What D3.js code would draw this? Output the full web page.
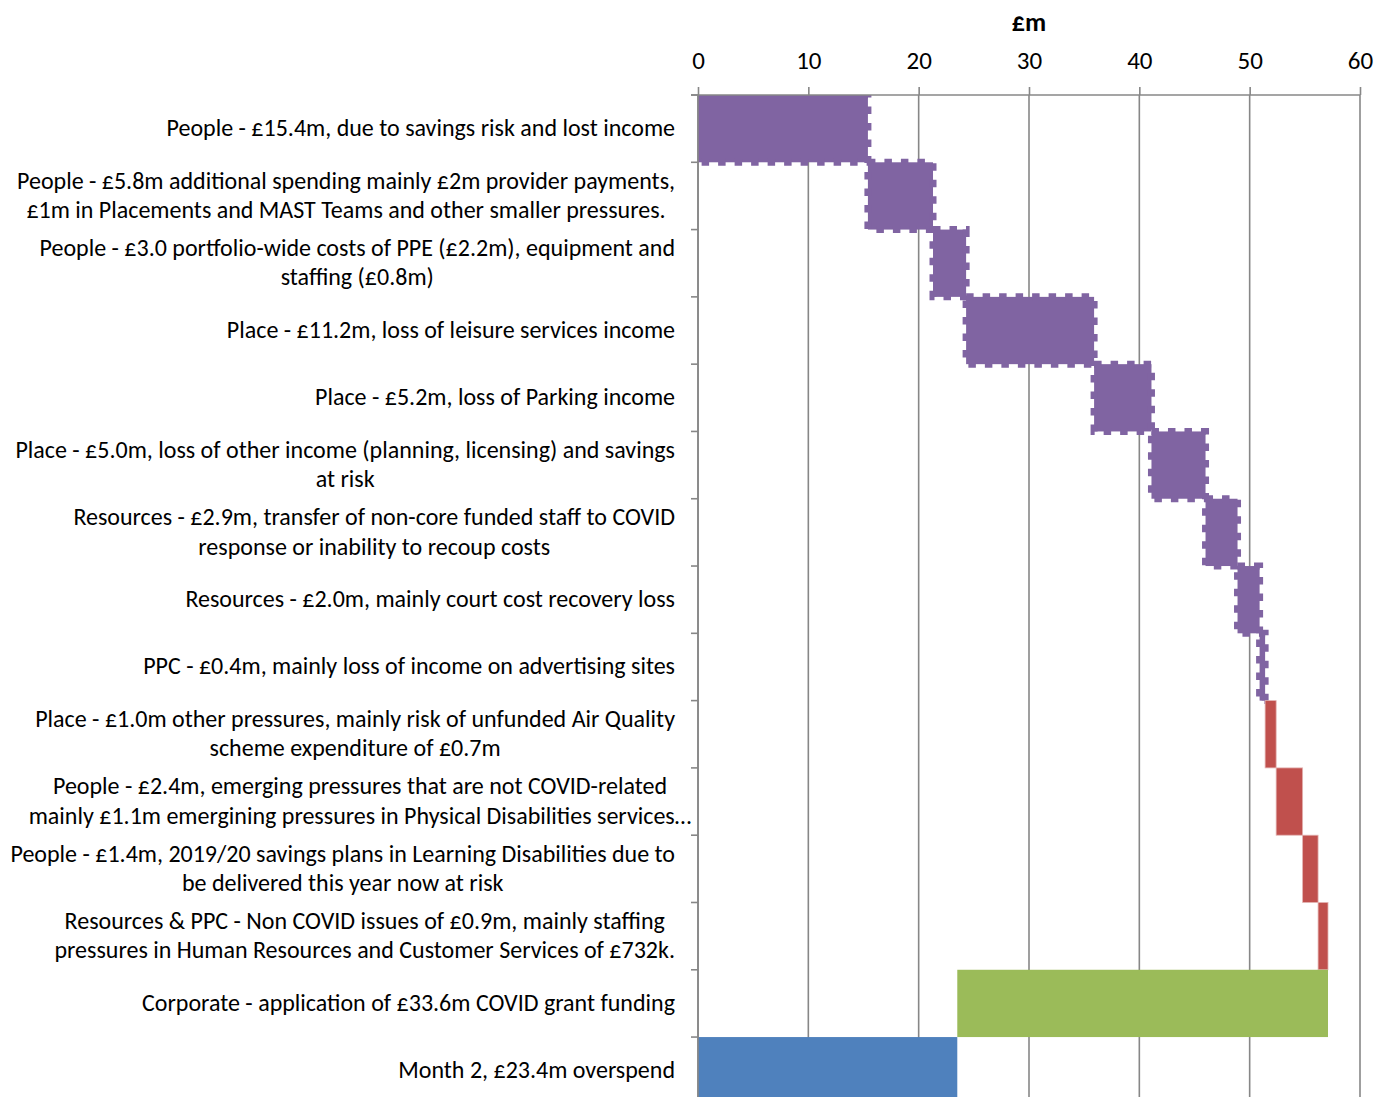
<!DOCTYPE html>
<html>
<head>
<meta charset="utf-8">
<script src="https://cdn.jsdelivr.net/npm/d3@7"></script>
<style>
  html, body { margin: 0; padding: 0; background: #fff; overflow: hidden; }
  svg text { font-family: Calibri, Carlito, "Open Sans", sans-serif; fill: #000; }
</style>
</head>
<body>
<div class="chart"></div>
<script>
const categories = [
  'People - £15.4m, due to savings risk and lost income',
  'People - £5.8m additional spending mainly £2m provider payments,\n£1m in Placements and MAST Teams and other smaller pressures.',
  'People - £3.0 portfolio-wide costs of PPE (£2.2m), equipment and\nstaffing (£0.8m)',
  'Place - £11.2m, loss of leisure services income',
  'Place - £5.2m, loss of Parking income',
  'Place - £5.0m, loss of other income (planning, licensing) and savings\nat risk',
  'Resources - £2.9m, transfer of non-core funded staff to COVID\nresponse or inability to recoup costs',
  'Resources - £2.0m, mainly court cost recovery loss',
  'PPC - £0.4m, mainly loss of income on advertising sites',
  'Place - £1.0m other pressures, mainly risk of unfunded Air Quality\nscheme expenditure of £0.7m',
  'People - £2.4m, emerging pressures that are not COVID-related\nmainly £1.1m emergining pressures in Physical Disabilities services…',
  'People - £1.4m, 2019/20 savings plans in Learning Disabilities due to\nbe delivered this year now at risk',
  'Resources & PPC - Non COVID issues of £0.9m, mainly staffing\npressures in Human Resources and Customer Services of £732k.',
  'Corporate - application of £33.6m COVID grant funding',
  'Month 2, £23.4m overspend'
]
// change in £m for each step
const changes = [15.4, 5.9, 3.0, 11.6, 5.2, 4.9, 2.9, 2.0, 0.5, 1.0, 2.4, 1.4, 0.9, -33.6, 23.5]
const kinds = ['covid', 'covid', 'covid', 'covid', 'covid', 'covid', 'covid', 'covid', 'covid',
  'other', 'other', 'other', 'other', 'grant', 'total']
const xTicks = [0, 10, 20, 30, 40, 50, 60]
const xTitle = '£m'

;(function draw() {
  const width = 1376
  const height = 1097
  const plotLeft = 698
  const plotRight = 1360
  const plotTop = 95
  const rowH = 67.29

  const colors = { covid: '#8064A2', other: '#C0504D', grant: '#9BBB59', total: '#4F81BD' }
  const gridColor = '#878787'

  // running totals -> start/end of each floating bar
  let run = 0
  const steps = categories.map((c, i) => {
    let s, e
    if (kinds[i] === 'total') {
      s = 0
      e = changes[i]
    } else {
      s = run
      e = run + changes[i]
      run = e
    }
    return { label: c, kind: kinds[i], x0: Math.min(s, e), x1: Math.max(s, e) }
  })

  const x = d3.scaleLinear().domain([0, 60]).range([plotLeft, plotRight])
  const y = d3
    .scaleBand()
    .domain(d3.range(categories.length))
    .range([plotTop, plotTop + rowH * categories.length])
    .padding(0)

  const svg = d3
    .select('.chart')
    .append('svg')
    .attr('width', width)
    .attr('height', height)
    .attr('viewBox', [0, 0, width, height])

  svg
    .append('clipPath')
    .attr('id', 'plot-clip')
    .append('rect')
    .attr('x', plotLeft)
    .attr('y', plotTop)
    .attr('width', plotRight - plotLeft + 20)
    .attr('height', height)

  // vertical gridlines
  svg
    .append('g')
    .selectAll('line')
    .data(xTicks)
    .enter()
    .append('line')
    .attr('x1', (d) => x(d))
    .attr('x2', (d) => x(d))
    .attr('y1', plotTop)
    .attr('y2', height + 20)
    .attr('stroke', gridColor)
    .attr('stroke-width', 1.6)

  // bars
  const bars = svg.append('g').attr('clip-path', 'url(#plot-clip)')
  steps.forEach((d, i) => {
    const r = bars
      .append('rect')
      .attr('x', x(d.x0))
      .attr('y', y(i))
      .attr('width', x(d.x1) - x(d.x0))
      .attr('height', y.bandwidth())
      .attr('fill', colors[d.kind])
    if (d.kind === 'covid') {
      r.attr('stroke', colors.covid).attr('stroke-width', 7).attr('stroke-dasharray', '7.5,9')
    } else if (d.kind === 'other') {
      r.attr('stroke', '#e3b3b2').attr('stroke-width', 0.8)
    }
  })

  // top value axis
  const xAxis = d3.axisTop(x).tickValues(xTicks).tickSize(8).tickPadding(18)
  const gx = svg
    .append('g')
    .attr('transform', `translate(0,${plotTop})`)
    .call(xAxis)
  gx.select('.domain')
    .attr('stroke', gridColor)
    .attr('stroke-width', 1.6)
    .attr('d', `M${plotLeft - 7},0H${plotRight}`)
  gx.selectAll('.tick line').attr('stroke', gridColor).attr('stroke-width', 1.6)
  gx.attr('font-family', null).attr('font-size', null)
  gx.selectAll('.tick text').style('font-size', '25px').attr('fill', '#000')

  svg
    .append('text')
    .attr('x', (plotLeft + plotRight) / 2)
    .attr('y', 31)
    .attr('text-anchor', 'middle')
    .style('font-size', '26px')
    .style('font-weight', 'bold')
    .text(xTitle)

  // category axis line and ticks
  svg
    .append('line')
    .attr('x1', plotLeft)
    .attr('x2', plotLeft)
    .attr('y1', plotTop)
    .attr('y2', height + 20)
    .attr('stroke', gridColor)
    .attr('stroke-width', 1.6)
  svg
    .append('g')
    .selectAll('line')
    .data(d3.range(categories.length + 1))
    .enter()
    .append('line')
    .attr('x1', plotLeft - 7)
    .attr('x2', plotLeft)
    .attr('y1', (i) => plotTop + i * rowH)
    .attr('y2', (i) => plotTop + i * rowH)
    .attr('stroke', gridColor)
    .attr('stroke-width', 1.6)

  // category labels: block right-aligned, lines centred within the block
  const labelRight = 675
  const lineGap = 29.5
  const labels = svg.append('g').style('font-size', '24px')

  steps.forEach((d, i) => {
    const lines = d.label.split('\n')
    const cy = y(i) + y.bandwidth() / 2
    const t = labels.append('text').attr('text-anchor', 'middle')
    lines.forEach((ln, j) => {
      t.append('tspan')
        .attr('y', cy + (j - (lines.length - 1) / 2) * lineGap)
        .attr('dy', '0.31em')
        .text(ln)
    })
    const bw = d3.max(t.selectAll('tspan').nodes(), (n) => n.getComputedTextLength())
    // the truncated label overhangs into the axis in the reference
    const cx = i === 10 ? 360 : labelRight - bw / 2
    t.selectAll('tspan').attr('x', cx)
  })
})()
</script>
</body>
</html>
